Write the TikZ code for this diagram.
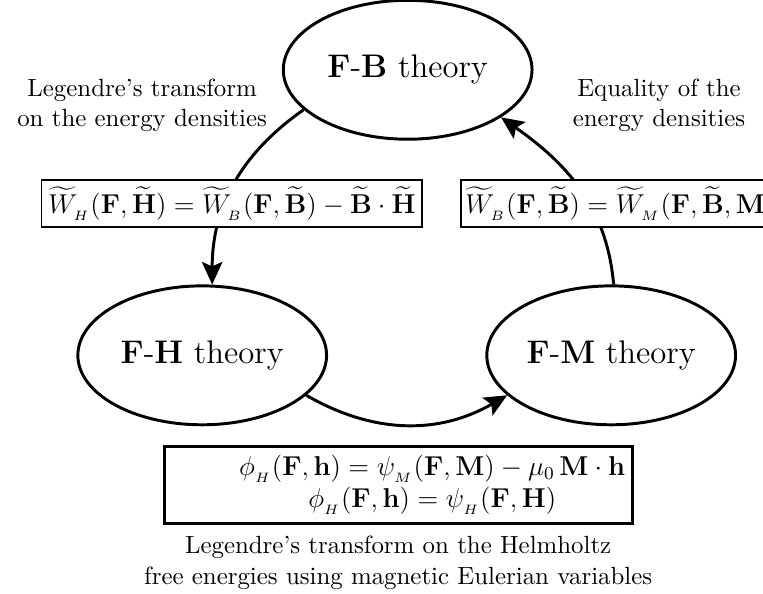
\documentclass[tikz,border=0pt,11pt]{standalone}
\usepackage{amsmath, amssymb}
\usepackage{tikz}
\usetikzlibrary{arrows.meta, positioning, shapes.geometric}

\begin{document}
\begin{tikzpicture}[
    theory/.style={ellipse, draw, line width=1.3pt, minimum width=3.85cm, minimum height=2.15cm, inner sep=0pt, font=\Large},
    eqbox/.style={draw, line width=0.8pt, fill=white, font=\fontsize{11.5}{14}\selectfont, inner sep=3pt},
    link/.style={line width=1.3pt, -{Stealth[length=10pt, width=9pt, inset=2pt]}},
    note/.style={align=center}
]
    \useasboundingbox (0,0) rectangle (11.81,9.18);
    \node[theory] (fb) at (6.31,8.10) {$\mathbf{F}$-$\mathbf{B}$ theory};
    \node[theory] (fh) at (3.13,3.68) {$\mathbf{F}$-$\mathbf{H}$ theory};
    \node[theory] (fm) at (9.46,3.68) {$\mathbf{F}$-$\mathbf{M}$ theory};
    \draw[link] (fb.201) to[out=215, in=90] (fh.82);
    \draw[link] (fh.-21) to[out=-30, in=210] (fm.201);
    \draw[link] (fm.88) to[out=95, in=-35] (fb.-27);
    \node[eqbox] (wh) at (3.59,6.03) {$\widetilde{W}_{_H}(\mathbf{F},\widetilde{\mathbf{H}}) = \widetilde{W}_{_B}(\mathbf{F},\widetilde{\mathbf{B}}) - \widetilde{\mathbf{B}}\cdot\widetilde{\mathbf{H}}$};
    \node[eqbox, anchor=west, inner xsep=2pt] (wb) at (7.12,6.03) {$\widetilde{W}_{_B}(\mathbf{F},\widetilde{\mathbf{B}}) = \widetilde{W}_{_M}(\mathbf{F},\widetilde{\mathbf{B}},\mathbf{M})$};
    \node[eqbox, line width=1.3pt, anchor=west] (phi) at (2.52,1.67) {\hspace*{30pt}$\begin{array}{@{}c@{}}
        \phi_{_H}(\mathbf{F},\mathbf{h}) = \psi_{_M}(\mathbf{F},\mathbf{M}) - \mu_0\,\mathbf{M}\cdot\mathbf{h}\\
        \phi_{_H}(\mathbf{F},\mathbf{h}) = \psi_{_H}(\mathbf{F},\mathbf{H})
    \end{array}$};
    \node[note] (lgd) at (2.2,7.55) {Legendre's transform\\ on the energy densities};
    \node[note] (eq) at (10.2,7.55) {Equality of the\\ energy densities};
    \node[note, below=1pt of phi] (helm) {Legendre's transform on the Helmholtz\\ free energies using magnetic Eulerian variables};
\end{tikzpicture}
\end{document}
